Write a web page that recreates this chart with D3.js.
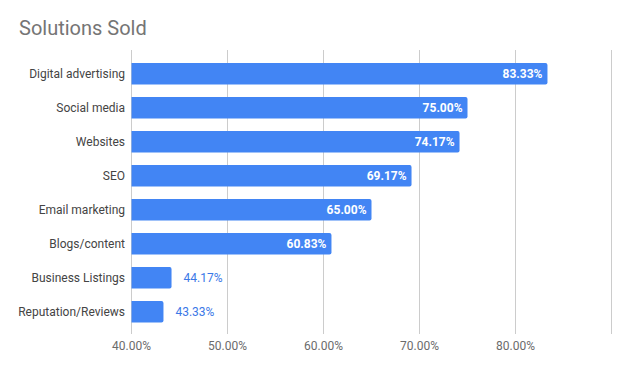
<!DOCTYPE html>
<html>
<head>
<meta charset="utf-8">
<script src="https://cdn.jsdelivr.net/npm/d3@7"></script>
<style>
    body { margin: 0; background: #fff; }
    svg { font-family: Roboto, "Noto Sans", sans-serif; }
</style>
</head>
<body>
<div id="chart"></div>
<script>
// Data
const categories = ["Digital advertising", "Social media", "Websites", "SEO", "Email marketing", "Blogs/content", "Business Listings", "Reputation/Reviews"];
const values = [83.33, 75.00, 74.17, 69.17, 65.00, 60.83, 44.17, 43.33];
const tickValues = [40, 50, 60, 70, 80, 90];
const tickLabels = ["40.00%", "50.00%", "60.00%", "70.00%", "80.00%", ""];

const width = 630;
const height = 371;

const svg = d3.select("#chart")
    .append("svg")
    .attr("width", width)
    .attr("height", height);

// Title
svg.append("text")
    .attr("x", 19)
    .attr("y", 35)
    .attr("font-size", 20)
    .attr("fill", "#757575")
    .text("Solutions Sold");

const x = d3.scaleLinear()
    .domain([40, 90])
    .range([131.5, 611.5]);

const y = d3.scaleBand()
    .domain(categories)
    .range([56.7, 328.7])
    .paddingInner(0.37)
    .paddingOuter(0.185);

// Vertical grid lines
svg.append("g")
    .selectAll("line")
    .data(tickValues)
    .enter()
    .append("line")
    .attr("x1", d => x(d))
    .attr("x2", d => x(d))
    .attr("y1", 50)
    .attr("y2", 334)
    .attr("stroke", "#cccccc")
    .attr("stroke-width", 1)
    .attr("shape-rendering", "crispEdges");

// Bottom tick labels
svg.append("g")
    .selectAll("text")
    .data(tickValues)
    .enter()
    .append("text")
    .attr("x", d => x(d))
    .attr("y", 350)
    .attr("text-anchor", "middle")
    .attr("font-size", 12)
    .attr("fill", "#6b6b6b")
    .text((d, i) => tickLabels[i]);

// Category labels
svg.append("g")
    .selectAll("text")
    .data(categories)
    .enter()
    .append("text")
    .attr("x", 125)
    .attr("y", d => y(d) + y.bandwidth() / 2)
    .attr("dy", "0.35em")
    .attr("text-anchor", "end")
    .attr("font-size", 12)
    .attr("fill", "#444444")
    .text(d => d);

// Bars with rounded right ends only
const r = 2;
function barPath(d, i) {
    const x0 = x(40);
    const x1 = x(values[i]);
    const y0 = y(d);
    const h = y.bandwidth();
    return `M${x0},${y0} H${x1 - r} Q${x1},${y0} ${x1},${y0 + r} V${y0 + h - r} Q${x1},${y0 + h} ${x1 - r},${y0 + h} H${x0} Z`;
}

svg.append("g")
    .selectAll("path")
    .data(categories)
    .enter()
    .append("path")
    .attr("d", barPath)
    .attr("fill", "#4285f4");

// Value labels: inside for long bars, outside for short ones
svg.append("g")
    .selectAll("text")
    .data(categories)
    .enter()
    .append("text")
    .attr("x", (d, i) => values[i] > 50 ? x(values[i]) - 5 : x(values[i]) + 12)
    .attr("y", d => y(d) + y.bandwidth() / 2)
    .attr("dy", "0.35em")
    .attr("text-anchor", (d, i) => values[i] > 50 ? "end" : "start")
    .attr("font-size", 12)
    .attr("font-weight", (d, i) => values[i] > 50 ? "bold" : "normal")
    .attr("fill", (d, i) => values[i] > 50 ? "#ffffff" : "#3b78e7")
    .text((d, i) => values[i].toFixed(2) + "%");
</script>
</body>
</html>
